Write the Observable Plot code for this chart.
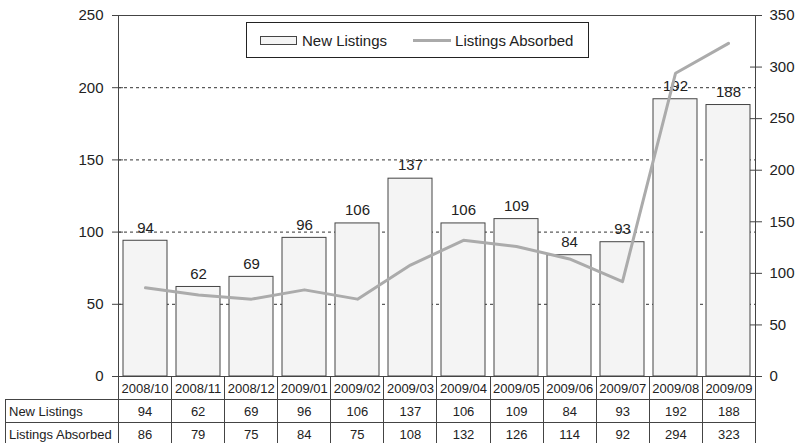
<!DOCTYPE html>
<html>
<head>
<meta charset="utf-8">
<script src="https://cdn.jsdelivr.net/npm/d3@7"></script>
<script src="https://cdn.jsdelivr.net/npm/@observablehq/plot@0.6"></script>
<style>
  html, body { margin: 0; padding: 0; background: #fff; }
  #wrap { position: relative; width: 796px; height: 443px; overflow: hidden; font-family: "Liberation Sans", Arial, sans-serif; color: #222; }
  #chart { position: absolute; left: 0; top: 0; }
  #legend { position: absolute; left: 246px; top: 22px; width: 341px; height: 34px; border: 1px solid #222; background: #fff;
            display: flex; align-items: center; font-size: 15px; box-sizing: content-box; }
  #legend .sw { width: 35px; height: 7px; border: 1px solid #444; background: #f4f4f4; margin-left: 13px; }
  #legend .ln { width: 38px; height: 3px; background: #aaa; margin-left: 26px; }
  #legend .t1 { margin-left: 5px; }
  #legend .t2 { margin-left: 4px; }
  #tbl { position: absolute; left: 5px; top: 376px; border-collapse: collapse; table-layout: fixed; font-size: 13px; }
  #tbl td { border: 1px solid #444; height: 22px; padding: 0; text-align: center; white-space: nowrap; overflow: hidden; }
  #tbl td.rl { text-align: left; padding-left: 3px; }
  #tbl td.corner { border-top: none; border-left: none; }
</style>
</head>
<body>
<div id="wrap">
  <div id="chart"></div>
  <div id="legend"><div class="sw"></div><span class="t1"></span><div class="ln"></div><span class="t2"></span></div>
  <table id="tbl"></table>
</div>
<script>
const months = ["2008/10","2008/11","2008/12","2009/01","2009/02","2009/03","2009/04","2009/05","2009/06","2009/07","2009/08","2009/09"];
const newListings = [94, 62, 69, 96, 106, 137, 106, 109, 84, 93, 192, 188];
const listingsAbsorbed = [86, 79, 75, 84, 75, 108, 132, 126, 114, 92, 294, 323];
const seriesNames = ["New Listings", "Listings Absorbed"];
const leftTicks = [0, 50, 100, 150, 200, 250];
const rightTicks = [0, 50, 100, 150, 200, 250, 300, 350];
const gridTicks = [50, 100, 150, 200];

const leftMax = 250, rightMax = 350;
const k = leftMax / rightMax;
const data = months.map((m, i) => ({month: m, listings: newListings[i], absorbed: listingsAbsorbed[i]}));

const chart = Plot.plot({
  width: 796,
  height: 377,
  marginTop: 15,
  marginBottom: 1,
  marginLeft: 118,
  marginRight: 41,
  style: {fontFamily: "'Liberation Sans', Arial, sans-serif", fontSize: "15px", color: "#222", background: "transparent", overflow: "visible"},
  x: {domain: months, paddingInner: 0.17, paddingOuter: 0.085, axis: null},
  y: {domain: [0, leftMax], label: null},
  marks: [
    Plot.gridY(gridTicks, {stroke: "#333", strokeOpacity: 1, strokeDasharray: "3,3"}),
    Plot.barY(data, {x: "month", y: "listings", fill: "#f4f4f4", stroke: "#444", strokeWidth: 1}),
    Plot.text(data, {x: "month", y: "listings", text: d => String(d.listings), dy: -13, fontSize: 15, fill: "#222"}),
    Plot.line(data, {x: "month", y: d => d.absorbed * k, stroke: "#ababab", strokeWidth: 3}),
    Plot.frame({stroke: "#444"}),
    Plot.tickY(leftTicks, {y: d => d, stroke: "#444", insetRight: 632}),
    Plot.tickY(rightTicks, {y: d => d * k, stroke: "#444", insetLeft: 632}),
    Plot.axisY(leftTicks, {anchor: "left", label: null, tickSize: 6, tickPadding: 9, stroke: "#444", fill: "#222", fontSize: 15}),
    Plot.axisY(rightTicks, {anchor: "right", y: d => d * k, text: d => String(d), label: null, tickSize: 6, tickPadding: 8, stroke: "#444", fill: "#222", fontSize: 15})
  ]
});
document.getElementById("chart").appendChild(chart);

document.querySelector("#legend .t1").textContent = seriesNames[0];
document.querySelector("#legend .t2").textContent = seriesNames[1];

// table
const tbl = document.getElementById("tbl");
const colW = (796 - 118 - 41) / months.length;
let html = "<colgroup><col style='width:113px'>" + months.map(() => `<col style='width:${colW}px'>`).join("") + "</colgroup>";
html += "<tr><td class='corner'></td>" + months.map(m => `<td>${m}</td>`).join("") + "</tr>";
html += `<tr><td class='rl'>${seriesNames[0]}</td>` + newListings.map(v => `<td>${v}</td>`).join("") + "</tr>";
html += `<tr><td class='rl'>${seriesNames[1]}</td>` + listingsAbsorbed.map(v => `<td>${v}</td>`).join("") + "</tr>";
tbl.innerHTML = html;
tbl.style.width = (113 + colW * months.length) + "px";
</script>
</body>
</html>
